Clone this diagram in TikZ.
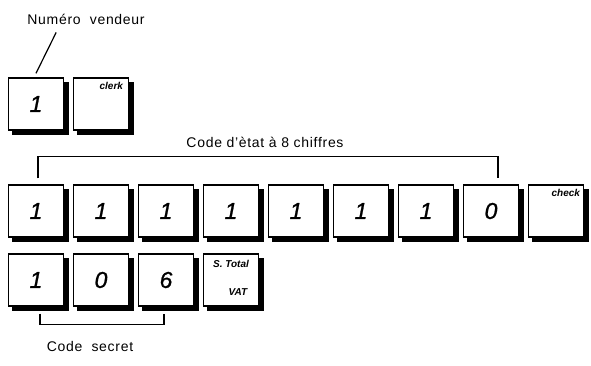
\documentclass[tikz,border=0pt]{standalone}
\usepackage{fontspec}
\setmainfont{Liberation Sans}
\usetikzlibrary{positioning,calc}

\begin{document}
\begin{tikzpicture}[x=1pt,y=-1pt,
  keybox/.style={rectangle,draw,line width=1.4pt,fill=white,minimum width=55pt,minimum height=52pt,
    preaction={draw=black,fill=black,transform canvas={xshift=4.5pt,yshift=-4.5pt}}},
  digit/.style={font=\fontsize{23}{23}\selectfont\itshape\addfontfeature{FakeBold=1}},
  keytag/.style={font=\fontsize{10}{10}\selectfont\itshape\bfseries,inner sep=0pt},
  note/.style={font=\fontsize{14}{16}\selectfont\addfontfeature{LetterSpace=5},inner sep=1pt}]
\useasboundingbox (0,0) rectangle (591,365);

% Clerk number
\node[note] (clerknote) at (86,19) {Numéro\ \ vendeur};
\node[keybox,digit] (c1) at (36,104) {1};
\node[keybox] (clerk) at (101,104) {};
\node[keytag,anchor=north east] (clerktag) at ($(clerk.north east)+(-6,5)$) {clerk};
\draw[line width=1.2pt] ($(clerknote.south west)+(30,7)$) -- ($(c1.north)+(0,-4)$);

% State code
\node[note] (statenote) at (265,142) {Code d'ètat à 8 chiffres};
\foreach \d [count=\i] in {1,1,1,1,1,1,1,0}
  \node[keybox,digit] (s\i) at ({36+65*(\i-1)},211) {\d};
\node[keybox] (check) at (556,211) {};
\node[keytag,anchor=north east] (checktag) at ($(check.north east)+(-4,5)$) {check};
\coordinate (sl) at ($(s1.north)+(2,-6)$);
\coordinate (sr) at ($(s8.north)+(7,-6)$);
\draw[line width=1.2pt] (sl) -- ++(0,-22) -| (sr);

% Secret code
\node[keybox,digit] (p1) at (36,280) {1};
\node[keybox,digit] (p2) at (101,280) {0};
\node[keybox,digit] (p3) at (166,280) {6};
\node[keybox] (stotal) at (231,280) {};
\node[keytag] (stotaltag) at ($(stotal.north)+(0,11)$) {S. Total};
\node[keytag] (vattag) at ($(stotal.center)+(7,12)$) {VAT};
\coordinate (pl) at ($(p1.south)+(4,7)$);
\coordinate (pr) at ($(p3.south)+(-2,7)$);
\draw[line width=1.2pt] (pl) -- ++(0,11) -| (pr);
\node[note] (secretnote) at (90,346) {Code\ \ secret};
\end{tikzpicture}
\end{document}
